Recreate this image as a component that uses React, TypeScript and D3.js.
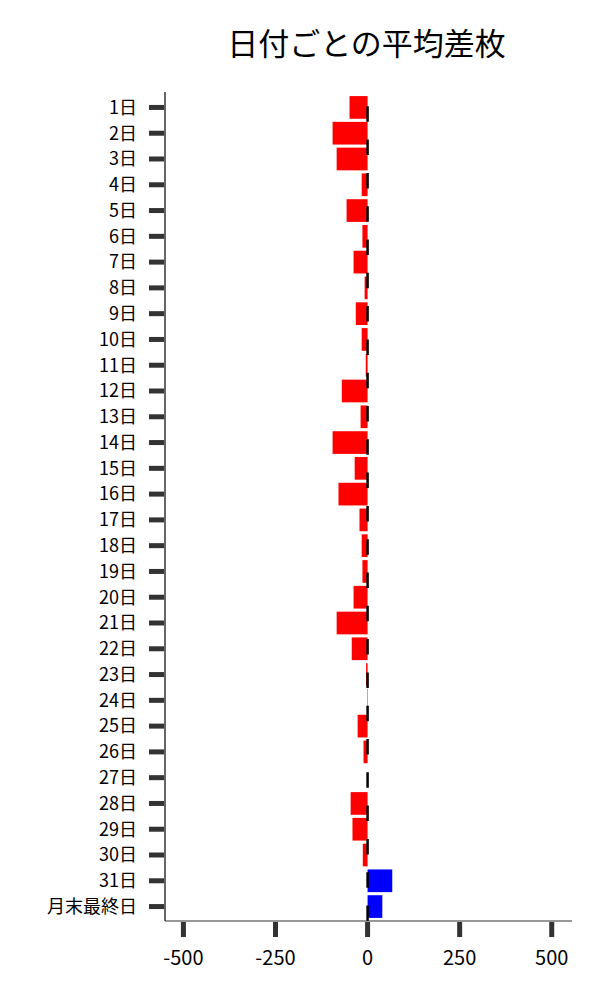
import * as d3 from 'd3'

const FONT = '"Noto Sans CJK JP", "Noto Sans", sans-serif'

const TITLE = '日付ごとの平均差枚'

// 日付ラベル
const days = [
  '1日', '2日', '3日', '4日', '5日', '6日', '7日', '8日', '9日', '10日',
  '11日', '12日', '13日', '14日', '15日', '16日', '17日', '18日', '19日', '20日',
  '21日', '22日', '23日', '24日', '25日', '26日', '27日', '28日', '29日', '30日',
  '31日', '月末最終日',
]

// 平均差枚
const avgDiff = [
  -49, -95, -84, -16, -57, -14, -38, -8, -32, -16,
  -5, -70, -19, -95, -35, -79, -22, -16, -14, -38,
  -84, -43, -4, 1, -27, -11, 0, -46, -41, -13,
  67, 40,
]

const xTicks = [-500, -250, 0, 250, 500]

const WIDTH = 600
const HEIGHT = 1000
const MARGIN = { TOP: 93, RIGHT: 28, BOTTOM: 79, LEFT: 165 }

export default function App() {
  const x = d3.scaleLinear()
    .domain([-550, 555])
    .range([MARGIN.LEFT, WIDTH - MARGIN.RIGHT])

  const y = d3.scaleBand()
    .domain(days)
    .range([MARGIN.TOP, HEIGHT - MARGIN.BOTTOM])
    .padding(0.12)

  const bottom = HEIGHT - MARGIN.BOTTOM
  const x0 = x(0)

  return (
    <svg width={WIDTH} height={HEIGHT} style={{ position: 'absolute', left: 0, top: 0, background: '#fff' }}>
      <text x={(MARGIN.LEFT + WIDTH - MARGIN.RIGHT) / 2 - 2} y={55} textAnchor="middle"
        fontFamily={FONT} fontSize={31} fill="#000">{TITLE}</text>

      {/* bars */}
      <g>
        {days.map((d, i) => {
          const v = avgDiff[i]
          return (
            <rect key={d}
              x={Math.min(x(v), x0)}
              y={y(d)}
              width={Math.abs(x(v) - x0)}
              height={y.bandwidth()}
              fill={v >= 0 ? '#0000ff' : '#ff0000'} />
          )
        })}
      </g>

      {/* zero line, dashes start from the bottom */}
      <line x1={x0} x2={x0} y1={bottom} y2={MARGIN.TOP - 1}
        stroke="#000" strokeWidth={2.5} strokeDasharray="15.5 17.8" />

      {/* spines */}
      <line x1={MARGIN.LEFT} x2={MARGIN.LEFT} y1={MARGIN.TOP - 1} y2={bottom} stroke="#000" strokeWidth={1.2} />
      <line x1={MARGIN.LEFT} x2={WIDTH - MARGIN.RIGHT} y1={bottom} y2={bottom} stroke="#333" strokeWidth={1.2} />

      {/* y axis */}
      <g>
        {days.map(d => {
          const cy = (y(d) ?? 0) + y.bandwidth() / 2
          return (
            <g key={d}>
              <line x1={MARGIN.LEFT - 16} x2={MARGIN.LEFT - 1} y1={cy} y2={cy} stroke="#333" strokeWidth={5} />
              <text x={MARGIN.LEFT - 28} y={cy} dy="0.35em" textAnchor="end"
                fontFamily={FONT} fontSize={18} fill="#000">{d}</text>
            </g>
          )
        })}
      </g>

      {/* x axis */}
      <g>
        {xTicks.map(t => (
          <g key={t}>
            <line x1={x(t)} x2={x(t)} y1={bottom + 1} y2={bottom + 16} stroke="#333" strokeWidth={5} />
            <text x={x(t)} y={bottom + 37} dy="0.35em" textAnchor="middle"
              fontFamily={FONT} fontSize={20} fill="#000">{t}</text>
          </g>
        ))}
      </g>
    </svg>
  )
}
